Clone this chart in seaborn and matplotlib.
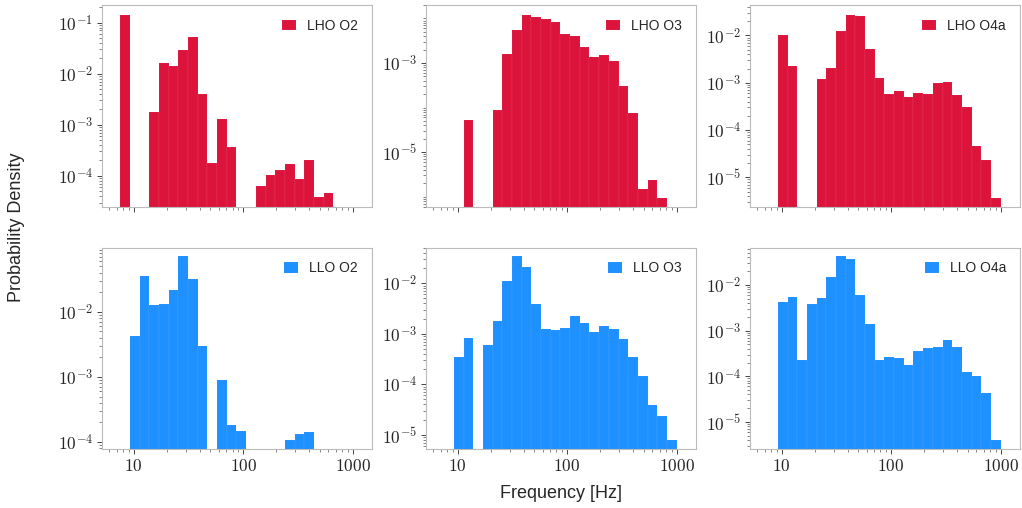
import numpy as np
import matplotlib
matplotlib.use("Agg")
import matplotlib.pyplot as plt
from matplotlib.ticker import FixedLocator, LogLocator, FuncFormatter, NullFormatter
import seaborn as sns

# Common log-spaced frequency bins (Hz)
bin_lo, bin_hi, n_bins = 7.55, 1000.0, 24

# Probability density per bin (0 = empty bin)
lho_o2 = [0.141, 0, 0, 1.8e-3, 0.0165, 0.0143, 0.0294, 0.0526, 4.0e-3, 1.79e-4,
          1.31e-3, 3.6e-4, 0, 0, 6.4e-5, 1.04e-4, 1.29e-4, 1.74e-4, 8.5e-5,
          2.08e-4, 3.8e-5, 4.7e-5, 0, 0]
lho_o3 = [0, 0, 5.4e-5, 0, 0, 8.9e-5, 1.59e-3, 5.6e-3, 0.0121, 0.0107, 9.8e-3,
          8.3e-3, 4.4e-3, 4.0e-3, 2.24e-3, 1.39e-3, 1.51e-3, 1.13e-3, 3.05e-4,
          7.6e-5, 1.46e-6, 2.32e-6, 9.5e-7, 0]
lho_o4a = [0, 0.0102, 2.21e-3, 0, 0, 1.19e-3, 2.1e-3, 0.0123, 0.0277, 0.0264,
           5.2e-3, 1.27e-3, 5.9e-4, 6.6e-4, 4.9e-4, 5.95e-4, 5.7e-4, 9.7e-4,
           1.05e-3, 5.5e-4, 3.1e-4, 4.6e-5, 2.3e-5, 3.7e-6]
llo_o2 = [0, 4.3e-3, 0.0354, 0.0125, 0.0131, 0.0218, 0.0710, 0.0314, 3.03e-3, 0,
          8.9e-4, 1.80e-4, 1.48e-4, 0, 0, 0, 0, 1.07e-4, 1.31e-4, 1.43e-4,
          0, 0, 0, 0]
llo_o3 = [0, 3.39e-4, 8.3e-4, 0, 6.1e-4, 1.79e-3, 0.0110, 0.0344, 0.0214, 3.94e-3,
          1.26e-3, 1.16e-3, 1.31e-3, 2.21e-3, 1.60e-3, 1.08e-3, 1.42e-3, 1.26e-3,
          7.96e-4, 3.39e-4, 1.47e-4, 3.88e-5, 2.35e-5, 7.8e-6]
llo_o4a = [0, 4.31e-3, 5.46e-3, 2.30e-4, 3.77e-3, 5.09e-3, 0.0147, 0.0426, 0.0366,
           6.04e-3, 1.42e-3, 2.30e-4, 2.59e-4, 2.46e-4, 1.73e-4, 3.50e-4, 4.14e-4,
           4.28e-4, 6.1e-4, 4.28e-4, 1.27e-4, 9.9e-5, 4.41e-5, 4.04e-6]

labels = [["LHO O2", "LHO O3", "LHO O4a"], ["LLO O2", "LLO O3", "LLO O4a"]]
series = [[lho_o2, lho_o3, lho_o4a], [llo_o2, llo_o3, llo_o4a]]
colors = ["#DC143C", "#1E90FF"]

# y range and labelled decades for each panel
ylims = [[(2.5e-5, 0.22), (6.0e-7, 0.020), (2.4e-6, 0.044)],
         [(7.8e-5, 0.097), (5.2e-6, 0.051), (2.55e-6, 0.066)]]
ymajor = [[[-4, -3, -2, -1], [-5, -3], [-5, -4, -3, -2]],
          [[-4, -3, -2], [-5, -4, -3, -2], [-5, -4, -3, -2]]]
xticks = [10, 100, 1000]

sns.set_theme(style="white")
plt.rcParams["font.family"] = ["Liberation Sans", "DejaVu Sans"]
plt.rcParams["mathtext.fontset"] = "cm"

edges = np.logspace(np.log10(bin_lo), np.log10(bin_hi), n_bins + 1)
centers = np.sqrt(edges[:-1] * edges[1:])

fig, axes = plt.subplots(2, 3, figsize=(10.22, 5.08), dpi=100)
fig.subplots_adjust(left=0.0998, right=0.998, top=0.990, bottom=0.116,
                    wspace=0.2, hspace=0.203)

for r in range(2):
    for c in range(3):
        ax = axes[r, c]
        dens = np.asarray(series[r][c], dtype=float)
        keep = dens > 0
        # weighted histogram on fixed frequency bins; axes switched to log afterwards
        sns.histplot(x=centers[keep], weights=dens[keep], bins=edges.tolist(),
                     stat="count", color=colors[r], alpha=1.0,
                     edgecolor=(1, 1, 1, 0.15), linewidth=0.3,
                     label=labels[r][c], ax=ax)
        ax.set_xscale("log")
        ax.set_yscale("log")
        ax.set_xlim(5.15, 1500)
        ax.set_ylim(*ylims[r][c])
        ax.set_ylabel("")
        ax.set_xlabel("")

        ax.yaxis.set_major_locator(FixedLocator([10.0 ** e for e in ymajor[r][c]]))
        ax.yaxis.set_major_formatter(FuncFormatter(
            lambda v, p: r"$10^{%d}$" % int(round(np.log10(v)))))
        ax.yaxis.set_minor_locator(LogLocator(base=10, subs=np.arange(1, 10), numticks=100))
        ax.yaxis.set_minor_formatter(NullFormatter())

        ax.xaxis.set_major_locator(FixedLocator(xticks))
        ax.xaxis.set_major_formatter(FuncFormatter(lambda v, p: r"$%d$" % int(round(v))))
        ax.xaxis.set_minor_locator(LogLocator(base=10, subs=np.arange(2, 10), numticks=100))
        ax.xaxis.set_minor_formatter(NullFormatter())

        ax.tick_params(which="major", direction="out", length=3.5, width=0.7,
                       color="#444444", labelsize=12.5, left=True, bottom=True, pad=3)
        ax.tick_params(which="minor", direction="out", length=2, width=0.5,
                       color="#555555", left=True, bottom=True)
        if r == 0:
            ax.tick_params(labelbottom=False)
        for s in ax.spines.values():
            s.set_color("#bbbbbb")
            s.set_linewidth(0.8)

        ax.legend(loc="upper right", frameon=False, fontsize=10,
                  handlelength=1.0, handleheight=0.8, borderaxespad=0.6)

fig.supxlabel("Frequency [Hz]", fontsize=13, x=0.549, y=0.012)
fig.supylabel("Probability Density", fontsize=13, x=0.008, y=0.553)

fig.savefig("out.png", dpi=100)
